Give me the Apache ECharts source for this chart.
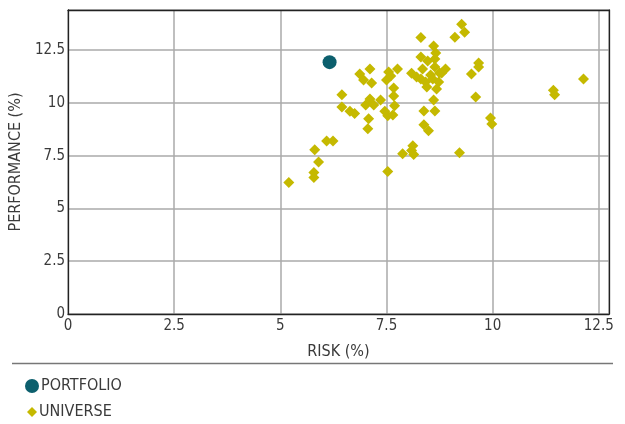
<!DOCTYPE html>
<html>
<head>
<meta charset="utf-8">
<script src="https://cdn.jsdelivr.net/npm/echarts@6/dist/echarts.min.js"></script>
<style>
html,body{margin:0;padding:0;background:#fff;}
#c{width:625px;height:424px;}
</style>
</head>
<body>
<div id="c"></div>
<script>
var FONT = "'Liberation Sans Narrow', 'DejaVu Sans Condensed', 'Roboto', sans-serif";

var xTicks = ['0', '2.5', '5', '7.5', '10', '12.5'];
var yTicks = ['0', '2.5', '5', '7.5', '10', '12.5'];

var portfolioRisk = [6.16];
var portfolioPerf = [11.93];

var universeRisk = [
  5.2, 5.81, 5.9, 5.79, 5.79, 6.09, 6.24, 6.45, 6.45, 6.64,
  6.75, 6.87, 6.96, 7.01, 7.06, 7.08, 7.11, 7.11, 7.15, 7.2,
  7.36, 7.46, 7.5, 7.55, 7.53, 7.53, 7.6, 7.65, 7.67, 7.67,
  7.69, 7.76, 7.88, 8.09, 8.12, 8.14, 8.09, 8.21, 8.31, 8.31,
  8.31, 8.35, 8.38, 8.38, 8.42, 8.45, 8.47, 8.49, 8.54, 8.59,
  8.61, 8.64, 8.61, 8.64, 8.66, 8.64, 8.68, 8.73, 8.75, 8.8,
  8.89, 9.11, 9.22, 9.27, 9.34, 9.5, 9.6, 9.67, 9.67, 9.95,
  9.98, 11.43, 11.46, 12.14
];
var universePerf = [
  6.23, 7.78, 7.2, 6.7, 6.46, 8.2, 8.2, 10.38, 9.8, 9.6,
  9.5, 11.37, 11.08, 9.9, 8.77, 9.25, 11.6, 10.19, 10.94, 9.9,
  10.14, 9.6, 11.08, 11.46, 9.39, 6.75, 11.27, 9.43, 10.7, 10.33,
  9.86, 11.6, 7.59, 7.74, 7.97, 7.55, 11.4, 11.23, 13.1, 12.17,
  11.13, 11.6, 8.96, 9.62, 10.99, 10.75, 11.98, 8.68, 11.32, 11.13,
  12.69, 11.7, 10.14, 9.62, 12.36, 12.08, 10.66, 10.99, 11.42, 11.42,
  11.6, 13.11, 7.64, 13.73, 13.35, 11.37, 10.28, 11.89, 11.7, 9.29,
  9.0, 10.6, 10.38, 11.13
];

function pairs(xs, ys) {
  var out = [];
  for (var i = 0; i < xs.length; i++) out.push([xs[i], ys[i]]);
  return out;
}

var chart = echarts.init(document.getElementById('c'), null, {renderer: 'canvas'});
var labelStyle = {color: '#3a3a3a', fontFamily: FONT, fontSize: 15};
var axisLineStyle = {color: '#222', width: 1.3};
var splitStyle = {color: '#aaa', width: 1.5};

chart.setOption({
  animation: false,
  textStyle: {fontFamily: FONT},
  grid: {left: 65, right: 16, top: 10, bottom: 110, containLabel: false},
  xAxis: [{
    type: 'value', min: 0, max: 12.74, interval: 2.5,
    name: 'RISK (%)', nameLocation: 'middle', nameGap: 30,
    nameTextStyle: {color: '#3a3a3a', fontFamily: FONT, fontSize: 16},
    axisLine: {show: true, lineStyle: axisLineStyle},
    axisTick: {show: false},
    axisLabel: Object.assign({margin: 5, showMaxLabel: false,
      formatter: function (v) { var s = String(Math.round(v * 10) / 10); return xTicks.indexOf(s) >= 0 ? s : ''; }}, labelStyle),
    splitLine: {show: true, lineStyle: splitStyle}
  }, {
    type: 'value', position: 'top', min: 0, max: 12.74,
    axisLine: {show: true, onZero: false, lineStyle: axisLineStyle},
    axisTick: {show: false}, axisLabel: {show: false}, splitLine: {show: false}
  }],
  yAxis: [{
    type: 'value', min: 0, max: 14.4, interval: 2.5,
    name: 'PERFORMANCE (%)', nameLocation: 'middle', nameGap: 44, nameRotate: 90,
    nameTextStyle: {color: '#3a3a3a', fontFamily: FONT, fontSize: 16},
    axisLine: {show: true, lineStyle: axisLineStyle},
    axisTick: {show: false},
    axisLabel: Object.assign({margin: 3, showMaxLabel: false,
      formatter: function (v) { var s = String(Math.round(v * 10) / 10); return yTicks.indexOf(s) >= 0 ? s : ''; }}, labelStyle),
    splitLine: {show: true, lineStyle: splitStyle}
  }, {
    type: 'value', position: 'right', min: 0, max: 14.4,
    axisLine: {show: true, onZero: false, lineStyle: axisLineStyle},
    axisTick: {show: false}, axisLabel: {show: false}, splitLine: {show: false}
  }],
  legend: [{
    data: ['PORTFOLIO'], orient: 'vertical', left: 20, top: 373,
    itemWidth: 14, itemHeight: 14, itemGap: 4,
    itemStyle: {opacity: 1},
    textStyle: {color: '#3a3a3a', fontFamily: FONT, fontSize: 16, padding: [0, 0, 0, -3]}
  }, {
    data: ['UNIVERSE'], orient: 'vertical', left: 22, top: 399,
    itemWidth: 10, itemHeight: 10,
    itemStyle: {opacity: 1},
    textStyle: {color: '#3a3a3a', fontFamily: FONT, fontSize: 16, padding: [0, 0, 0, -3]}
  }],
  graphic: [{
    type: 'line', shape: {x1: 12, y1: 363.5, x2: 613, y2: 363.5},
    style: {stroke: '#777', lineWidth: 1.5}
  }],
  series: [{
    name: 'UNIVERSE', type: 'scatter', symbol: 'diamond', symbolSize: 11,
    itemStyle: {color: '#c5b900', opacity: 1},
    data: pairs(universeRisk, universePerf), z: 2
  }, {
    name: 'PORTFOLIO', type: 'scatter', symbol: 'circle', symbolSize: 14,
    itemStyle: {color: '#0c5f6d', opacity: 1},
    data: pairs(portfolioRisk, portfolioPerf), z: 3
  }]
});
</script>
</body>
</html>
